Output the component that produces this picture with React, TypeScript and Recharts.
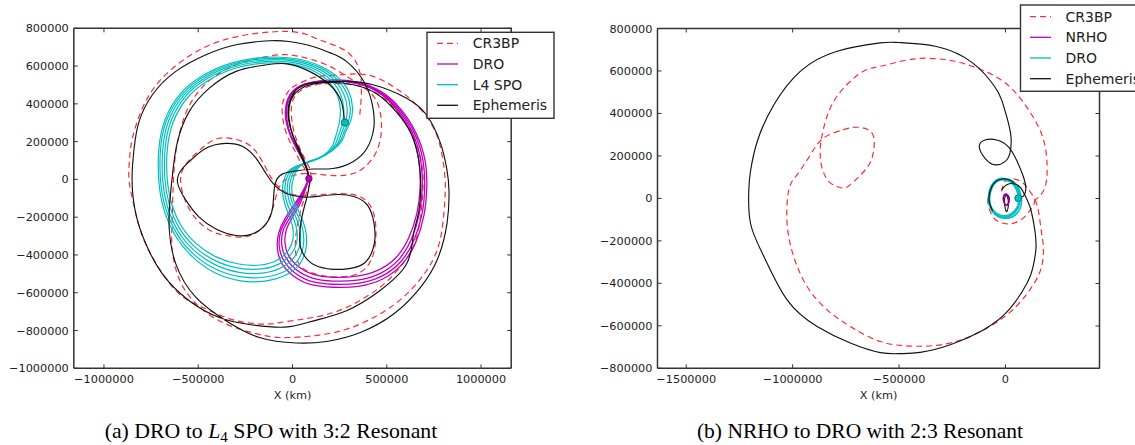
import React from 'react';
import { ScatterChart, Scatter, XAxis, YAxis } from 'recharts';

type Pt = [number, number];

// ---------- axis ticks (km) ----------
const leftXTicks = [-1000000, -500000, 0, 500000, 1000000];
const leftYTicks = [-1000000, -800000, -600000, -400000, -200000, 0, 200000, 400000, 600000, 800000];
const rightXTicks = [-1500000, -1000000, -500000, 0];
const rightYTicks = [-800000, -600000, -400000, -200000, 0, 200000, 400000, 600000, 800000];

// ---------- (a) DRO to L4 SPO, points in thousands of km ----------
const aCr3bp: Pt[] = [
  [87, 4], [62, 60], [37, 101], [11, 154], [-25, 224], [-50, 313], [-52, 402], [-25, 462], [20, 500], [126, 543],
  [232, 552], [392, 554], [534, 492], [640, 412], [729, 306], [782, 182], [808, 23], [808, -111], [782, -324],
  [711, -483], [605, -607], [463, -713], [286, -793], [108, -828], [-69, -837], [-200, -815], [-353, -765],
  [-500, -670], [-600, -530], [-637, -380], [-640, -271], [-635, -100], [-625, 94], [-605, 218], [-570, 341],
  [-510, 450], [-420, 540], [-299, 607], [-180, 642], [-69, 660], [37, 651], [179, 607], [303, 536], [400, 470],
  [455, 394], [472, 271], [445, 147], [374, 58], [286, 23], [179, 23], [73, 32], [-20, 10], [-70, -40],
  [-90, -100], [-122, -200], [-176, -271], [-264, -305], [-360, -295], [-437, -271], [-532, -182], [-590, -41],
  [-575, 66], [-494, 154], [-388, 218], [-264, 200], [-193, 147], [-140, 58], [-100, -10], [-40, -65], [59, -85],
  [231, -76], [364, -94], [431, -182], [441, -324], [410, -440], [330, -505], [200, -515], [90, -490], [30, -440],
  [15, -340], [30, -220], [60, -110], [95, -10], [90, 60], [60, 120], [25, 200], [0, 290], [-5, 390], [25, 455],
  [95, 495], [210, 508], [340, 497], [460, 447], [560, 352], [640, 230], [684, 90], [692, -50], [676, -218],
  [640, -359], [569, -466], [463, -572], [286, -678], [108, -731], [-69, -758], [-140, -766], [-299, -748],
  [-477, -678], [-619, -589], [-743, -412], [-810, -260], [-845, -120], [-867, -5], [-865, 100], [-849, 218],
  [-796, 377], [-707, 519], [-565, 642], [-388, 731], [-176, 775], [20, 780], [144, 739], [286, 678], [356, 572],
  [365, 448], [356, 333],
];

const aDro1: Pt[] = [
  [87, 4], [73, 65], [37, 136], [-7, 224], [-30, 313], [-27, 402], [11, 470], [90, 506], [214, 520], [339, 508],
  [460, 458], [558, 362], [630, 243], [670, 101], [677, -41], [660, -178], [616, -310], [548, -415], [455, -480],
  [340, -512], [214, -518], [110, -503], [32, -462], [-20, -405], [-40, -335], [-32, -265], [0, -200], [35, -138],
  [62, -72], [87, 4],
];
const aDro2: Pt[] = [
  [87, 4], [73, 66], [37, 137], [-7, 225], [-31, 314], [-28, 403], [10, 471], [90, 508], [214, 522], [339, 510],
  [462, 460], [563, 365], [638, 244], [680, 101], [688, -41], [673, -180], [630, -318], [562, -426], [466, -497],
  [343, -533], [214, -538], [105, -522], [22, -480], [-33, -418], [-57, -348], [-50, -272], [-15, -205], [25, -140],
  [57, -73], [87, 4],
];
const aDro3: Pt[] = [
  [87, 4], [73, 66], [37, 137], [-7, 225], [-33, 314], [-30, 404], [10, 473], [90, 510], [214, 524], [339, 513],
  [465, 463], [569, 368], [647, 245], [692, 101], [701, -41], [687, -183], [643, -325], [574, -436], [474, -512],
  [347, -550], [214, -555], [100, -540], [13, -496], [-45, -432], [-70, -357], [-63, -278], [-28, -205], [17, -136],
  [54, -70], [87, 4],
];
const aDro4: Pt[] = [
  [87, 4], [73, 67], [37, 138], [-7, 226], [-35, 315], [-32, 405], [9, 475], [90, 512], [214, 527], [339, 516],
  [468, 466], [575, 371], [655, 246], [703, 101], [712, -41], [698, -186], [654, -332], [584, -446], [481, -526],
  [350, -566], [214, -571], [95, -556], [5, -511], [-56, -446], [-80, -366], [-73, -283], [-38, -205], [10, -132],
  [52, -67], [87, 4],
];

const aSpo1: Pt[] = [
  [230, 230], [248, 300], [254, 370], [240, 440], [200, 510], [120, 570], [0, 610], [-150, 616], [-300, 590],
  [-440, 528], [-555, 435], [-632, 305], [-664, 160], [-665, 10], [-642, -125], [-590, -245], [-510, -340],
  [-405, -410], [-285, -448], [-170, -453], [-82, -428], [-22, -376], [3, -310], [-2, -240], [-27, -170],
  [-48, -100], [-52, -35], [-35, 25], [10, 65], [90, 92], [165, 128], [210, 175], [230, 230],
];
const aSpo2: Pt[] = [
  [245, 235], [266, 300], [272, 372], [257, 445], [214, 516], [130, 578], [5, 618], [-150, 624], [-305, 598],
  [-450, 535], [-567, 440], [-645, 308], [-676, 160], [-677, 5], [-653, -135], [-600, -258], [-518, -357],
  [-410, -430], [-285, -470], [-165, -474], [-70, -447], [-5, -392], [24, -322], [18, -245], [-10, -172],
  [-35, -105], [-40, -38], [-25, 22], [20, 68], [100, 96], [178, 133], [225, 182], [245, 235],
];
const aSpo3: Pt[] = [
  [258, 240], [282, 305], [290, 375], [273, 450], [226, 522], [138, 585], [8, 626], [-150, 632], [-310, 605],
  [-458, 541], [-578, 444], [-657, 311], [-688, 160], [-689, 0], [-664, -142], [-608, -272], [-525, -373],
  [-414, -450], [-283, -492], [-160, -496], [-60, -468], [10, -410], [42, -332], [35, -250], [7, -174],
  [-20, -106], [-28, -40], [-15, 18], [28, 70], [110, 100], [188, 138], [238, 188], [258, 240],
];
const aSpo4: Pt[] = [
  [270, 245], [298, 310], [306, 380], [288, 456], [238, 528], [146, 592], [12, 633], [-150, 639], [-315, 611],
  [-466, 546], [-588, 448], [-668, 313], [-700, 160], [-700, -5], [-674, -150], [-614, -287], [-528, -393],
  [-414, -472], [-280, -515], [-154, -518], [-48, -490], [26, -432], [58, -346], [52, -256], [22, -176],
  [-7, -106], [-16, -42], [-5, 14], [36, 72], [120, 105], [198, 145], [250, 196], [270, 245],
];
const aSpo5: Pt[] = [
  [280, 250], [310, 315], [318, 385], [300, 462], [248, 534], [152, 598], [15, 640], [-150, 646], [-320, 617],
  [-473, 551], [-596, 452], [-676, 316], [-709, 160], [-709, -10], [-682, -160], [-620, -300], [-530, -410],
  [-412, -494], [-275, -537], [-148, -538], [-38, -507], [40, -446], [73, -356], [68, -262], [38, -180],
  [6, -108], [-4, -45], [6, 10], [45, 75], [132, 110], [210, 152], [262, 204], [280, 250],
];

const aEphemeris: Pt[] = [
  [87, 4], [75, 60], [45, 140], [5, 228], [-18, 320], [-14, 400], [20, 462], [90, 500], [200, 513], [330, 500],
  [452, 450], [552, 356], [630, 240], [670, 100], [680, -40], [668, -180], [640, -300], [605, -448], [463, -589],
  [286, -695], [108, -750], [-40, -782], [-229, -768], [-388, -731], [-548, -642], [-690, -500], [-778, -341],
  [-831, -182], [-851, -5], [-840, 165], [-814, 306], [-743, 448], [-619, 572], [-459, 660], [-299, 713],
  [-122, 734], [-20, 730], [108, 704], [200, 670], [286, 625], [383, 510], [427, 377], [431, 271], [395, 165],
  [321, 94], [214, 58], [108, 55], [20, 45], [-55, 28], [-94, -32], [-105, -147], [-140, -235], [-211, -288],
  [-299, -297], [-406, -262], [-495, -200], [-565, -111], [-610, -15], [-590, 50], [-548, 94], [-459, 165],
  [-353, 191], [-264, 174], [-193, 111], [-140, 30], [-94, -32], [-36, -73], [59, -94], [150, -88], [240, -80],
  [330, -92], [400, -140], [432, -230], [434, -340], [385, -440], [300, -472], [214, -476], [120, -455],
  [60, -400], [38, -324], [50, -200], [75, -100], [90, -20], [84, 30], [60, 90], [30, 160], [0, 235], [-22, 322],
  [-18, 405], [16, 470], [85, 508], [197, 518], [286, 519], [427, 501], [605, 430], [711, 341], [782, 200],
  [818, 58], [830, -60], [820, -230], [770, -420], [680, -570], [540, -710], [360, -810], [180, -858], [20, -866],
  [-176, -837], [-353, -748], [-512, -625], [-619, -447], [-654, -260], [-650, -110], [-635, 40], [-610, 200],
  [-548, 359], [-441, 483], [-299, 572], [-150, 605], [-30, 612], [90, 572], [197, 501], [259, 412], [276, 301],
];

const aDroStart: Pt[] = [[87, 4]];
const aSpoArrival: Pt[] = [[278, 301]];

// ---------- (b) NRHO to DRO, points in thousands of km ----------
const bCr3bpRing: Pt[] = [
  [-18, 32], [-2, 79], [37, 92], [84, 72], [115, 32], [138, -7], [123, -46], [99, -78], [60, -109], [6, -120],
  [-49, -98], [-77, -46], [-83, 1], [-72, 40],
];
const bCr3bpLoop: Pt[] = [
  [138, -7], [154, -54], [170, -164], [179, -241], [170, -320], [136, -398], [51, -508], [-85, -610], [-256, -680],
  [-426, -696], [-588, -674], [-729, -603], [-838, -525], [-932, -415], [-995, -274], [-1026, -117], [-1018, 40],
  [-979, 112], [-916, 206], [-854, 285], [-760, 324], [-697, 335], [-627, 308], [-620, 222], [-651, 144],
  [-729, 65], [-768, 49], [-823, 73], [-862, 144], [-870, 238], [-854, 332], [-823, 426], [-760, 520], [-667, 599],
  [-588, 622], [-480, 648], [-366, 660], [-250, 648], [-153, 621], [0, 543], [119, 401], [179, 276], [196, 150],
  [187, 56], [160, 10], [138, -7],
];
const bNrho1: Pt[] = [[2, 22], [14, 12], [18, -8], [12, -28], [2, -30], [-8, -15], [-10, 5], [-5, 18], [2, 22]];
const bNrho2: Pt[] = [[4, 18], [16, 5], [15, -18], [6, -32], [-4, -24], [-9, -2], [-4, 14], [4, 18]];
const bDro1: Pt[] = [
  [-18, 92], [25, 82], [55, 50], [68, 0], [60, -45], [30, -78], [-10, -88], [-50, -70], [-72, -35], [-77, 8],
  [-65, 55], [-45, 82], [-18, 92],
];
const bDro2: Pt[] = [
  [-18, 95], [28, 85], [60, 52], [75, 0], [68, -50], [35, -85], [-8, -93], [-50, -75], [-75, -35], [-80, 8],
  [-68, 57], [-45, 85], [-18, 95],
];
const bDro3: Pt[] = [
  [-20, 88], [22, 78], [50, 45], [62, 0], [56, -40], [28, -72], [-10, -82], [-48, -66], [-70, -32], [-74, 8],
  [-62, 52], [-42, 78], [-20, 88],
];
const bEphemeris: Pt[] = [
  [-18, 40], [6, 64], [45, 68], [73, 48], [91, 16], [115, -39], [130, -101], [140, -164], [143, -242], [128, -330],
  [102, -398], [17, -524], [-102, -618], [-256, -688], [-400, -725], [-494, -731], [-588, -726], [-729, -681],
  [-885, -603], [-1026, -478], [-1135, -274], [-1198, -117], [-1206, 40], [-1198, 128], [-1166, 269],
  [-1088, 441], [-963, 599], [-791, 693], [-588, 732], [-503, 734], [-324, 715], [-153, 637], [-51, 527],
  [-18, 464], [6, 385], [26, 291], [21, 213], [-2, 173], [-49, 158], [-96, 189], [-123, 244], [-96, 275],
  [-41, 275], [13, 244], [52, 181], [84, 103], [96, 45], [85, 12], [60, 1],
];
const bEphemerisNrho: Pt[] = [[0, 18], [10, 5], [14, -25], [10, -55], [3, -60], [-3, -35], [-4, -5], [0, 18]];
const bEphemerisDro: Pt[] = [[-60, -60], [-77, -10], [-72, 35], [-55, 70], [-25, 90], [10, 90], [40, 75]];
const bDroArrival: Pt[] = [[60, 1]];

// ---------- styling / layout ----------
const RED = '#ff2d2d';
const MAGENTA = '#bf00bf';
const CYAN = '#00bfbf';
const BLACK = '#111111';
const FRAME = '#333333';
const SANS = '"DejaVu Sans", Verdana, sans-serif';
const SERIF = '"Liberation Serif", "Times New Roman", serif';

const domAX: [number, number] = [-1160000, 1160000];
const domAY: [number, number] = [-1000000, 800000];
const domBX: [number, number] = [-1635000, 442000];
const domBY: [number, number] = [-800000, 800000];

// plot rectangles in page pixels
const plotA = { x: 73.8, y: 28.3, w: 437.4, h: 340 };
const chartAOffset = 0;
const plotB = { x: 657.5, y: 28.5, w: 442, h: 340 };
const chartBOffset = 570;
const CHART_H = 410;

const toKm = (pts: Pt[]) => pts.map(([x, y]) => ({ x: x * 1000, y: y * 1000 }));
const fmt = (v: number) => (v < 0 ? '\u2212' + Math.abs(v) : String(v));

const BottomTick = (p: any) => (
  <g>
    <line x1={p.x} x2={p.x} y1={p.y} y2={p.y - 4} stroke={FRAME} />
    <text x={p.x} y={p.y + 14.5} textAnchor="middle" fill="#222" style={{ fontFamily: SANS, fontSize: 11.3 }}>
      {fmt(p.payload.value)}
    </text>
  </g>
);
const LeftTick = (p: any) => (
  <g>
    <line x1={p.x} x2={p.x + 4} y1={p.y} y2={p.y} stroke={FRAME} />
    <text x={p.x - 5} y={p.y + 4} textAnchor="end" fill="#222" style={{ fontFamily: SANS, fontSize: 11.3 }}>
      {fmt(p.payload.value)}
    </text>
  </g>
);

const XLabel = (p: any) => {
  const vb = p.viewBox || {};
  return (
    <text x={vb.x + vb.width / 2} y={vb.y + 30.5} textAnchor="middle" fill="#222"
      style={{ fontFamily: SANS, fontSize: 11.3 }}>X (km)</text>
  );
};

const noDot = () => <g />;

type Series = { pts: Pt[]; color: string; width: number; dash?: string };

function curves(list: Series[], prefix: string) {
  return list.map((s, i) => (
    <Scatter
      key={prefix + i}
      data={toKm(s.pts)}
      line={{ stroke: s.color, strokeWidth: s.width, strokeDasharray: s.dash }}
      lineJointType="natural"
      shape={noDot}
      fill="none"
      legendType="none"
      isAnimationActive={false}
    />
  ));
}

function marker(pts: Pt[], fill: string, edge: string, r: number, key: string) {
  return (
    <Scatter
      key={key}
      data={toKm(pts)}
      shape={(p: any) => <circle cx={p.cx} cy={p.cy} r={r} fill={fill} stroke={edge} strokeWidth={1} />}
      legendType="none"
      isAnimationActive={false}
    />
  );
}

function axes(xDomain: [number, number], yDomain: [number, number], xTicks: number[], yTicks: number[],
  yWidth: number) {
  const line = { stroke: FRAME, strokeWidth: 1.5 };
  return [
    <XAxis key="xb" type="number" dataKey="x" domain={xDomain} ticks={xTicks} interval={0}
      allowDataOverflow height={CHART_H - 368.3} tickSize={0} tickMargin={0} tickLine={false} axisLine={line}
      tick={BottomTick} label={XLabel} />,
    <YAxis key="yl" type="number" dataKey="y" domain={yDomain} ticks={yTicks} interval={0}
      allowDataOverflow width={yWidth} tickSize={0} tickMargin={0} tickLine={false} axisLine={line} tick={LeftTick} />,
  ];
}

// top and right edges of the axes box, with inward ticks at the same tick values
function FrameEdges({ plot, xDomain, yDomain, xTicks, yTicks }: any) {
  const px = (v: number) => plot.x + ((v - xDomain[0]) / (xDomain[1] - xDomain[0])) * plot.w;
  const py = (v: number) => plot.y + ((yDomain[1] - v) / (yDomain[1] - yDomain[0])) * plot.h;
  const r = plot.x + plot.w;
  return (
    <g>
      <path d={`M${plot.x},${plot.y} L${r},${plot.y} L${r},${plot.y + plot.h}`} fill="none" stroke={FRAME}
        strokeWidth={1.5} />
      {xTicks.map((v: number) => (
        <line key={'t' + v} x1={px(v)} x2={px(v)} y1={plot.y} y2={plot.y + 4} stroke={FRAME} strokeWidth={1} />
      ))}
      {yTicks.map((v: number) => (
        <line key={'r' + v} x1={r} x2={r - 4} y1={py(v)} y2={py(v)} stroke={FRAME} strokeWidth={1} />
      ))}
    </g>
  );
}

const legendA = [
  { name: 'CR3BP', color: RED, dash: '6 4' },
  { name: 'DRO', color: MAGENTA },
  { name: 'L4 SPO', color: CYAN },
  { name: 'Ephemeris', color: BLACK },
];
const legendB = [
  { name: 'CR3BP', color: RED, dash: '6 4' },
  { name: 'NRHO', color: MAGENTA },
  { name: 'DRO', color: CYAN },
  { name: 'Ephemeris', color: BLACK },
];

function LegendBox({ x, y, w, h, items, lineX, textX, rowY }: any) {
  return (
    <g>
      <rect x={x} y={y} width={w} height={h} fill="#fff" stroke={FRAME} strokeWidth={1.4} />
      {items.map((it: any, i: number) => (
        <g key={it.name}>
          <line x1={lineX} x2={lineX + 21} y1={rowY[i]} y2={rowY[i]} stroke={it.color} strokeWidth={1.3}
            strokeDasharray={it.dash} />
          <text x={textX} y={rowY[i] + 5} fill="#222" style={{ fontFamily: SANS, fontSize: 14 }}>{it.name}</text>
        </g>
      ))}
    </g>
  );
}

export default function App() {
  const seriesA: Series[] = [
    { pts: aCr3bp, color: RED, width: 1.2, dash: '6 4' },
    { pts: aDro1, color: MAGENTA, width: 1.3 },
    { pts: aDro2, color: MAGENTA, width: 1.3 },
    { pts: aDro3, color: MAGENTA, width: 1.3 },
    { pts: aDro4, color: MAGENTA, width: 1.3 },
    { pts: aSpo1, color: CYAN, width: 1.2 },
    { pts: aSpo2, color: CYAN, width: 1.2 },
    { pts: aSpo3, color: CYAN, width: 1.2 },
    { pts: aSpo4, color: CYAN, width: 1.2 },
    { pts: aSpo5, color: CYAN, width: 1.2 },
    { pts: aEphemeris, color: BLACK, width: 1.15 },
  ];
  const seriesB: Series[] = [
    { pts: bCr3bpRing, color: RED, width: 1.2, dash: '6 4' },
    { pts: bCr3bpLoop, color: RED, width: 1.2, dash: '6 4' },
    { pts: bDro1, color: CYAN, width: 1.6 },
    { pts: bDro2, color: CYAN, width: 1.6 },
    { pts: bDro3, color: CYAN, width: 1.6 },
    { pts: bEphemeris, color: BLACK, width: 1.15 },
    { pts: bEphemerisDro, color: BLACK, width: 1.15 },
    { pts: bEphemerisNrho, color: BLACK, width: 1.1 },
    { pts: bNrho1, color: MAGENTA, width: 1.4 },
    { pts: bNrho2, color: '#800080', width: 1.4 },
  ];

  const marginA = { top: plotA.y, right: 560 - (plotA.x + plotA.w - chartAOffset), bottom: 0, left: 0 };
  const marginB = { top: plotB.y, right: 565 - (plotB.x + plotB.w - chartBOffset), bottom: 0, left: 0 };

  return (
    <div style={{ position: 'absolute', left: 0, top: 0, width: 1135, height: 445, overflow: 'hidden', background: '#fff' }}>
      <div style={{ position: 'absolute', left: chartAOffset, top: 0 }}>
        <ScatterChart width={560} height={CHART_H} margin={marginA}>
          {axes(domAX, domAY, leftXTicks, leftYTicks, plotA.x - chartAOffset)}
          {curves(seriesA, 'a')}
          {marker(aDroStart, MAGENTA, '#7a007a', 3.2, 'ma')}
          {marker(aSpoArrival, CYAN, '#007a7a', 3.6, 'mb')}
        </ScatterChart>
      </div>
      <div style={{ position: 'absolute', left: chartBOffset, top: 0 }}>
        <ScatterChart width={565} height={CHART_H} margin={marginB}>
          {axes(domBX, domBY, rightXTicks, rightYTicks, plotB.x - chartBOffset)}
          {curves(seriesB, 'b')}
          {marker(bDroArrival, CYAN, '#007a7a', 3.4, 'mc')}
        </ScatterChart>
      </div>
      <svg width={1135} height={445} viewBox="0 0 1135 445"
        style={{ position: 'absolute', left: 0, top: 0, pointerEvents: 'none', zIndex: 2 }}>
        <FrameEdges plot={plotA} xDomain={domAX} yDomain={domAY} xTicks={leftXTicks} yTicks={leftYTicks} />
        <FrameEdges plot={plotB} xDomain={domBX} yDomain={domBY} xTicks={rightXTicks} yTicks={rightYTicks} />
        <LegendBox x={427} y={32.3} w={127} h={86} items={legendA} lineX={437} textX={472.7}
          rowY={[43.3, 64, 84.7, 105.3]} />
        <LegendBox x={1020.5} y={5} w={200} h={86.3} items={legendB} lineX={1030} textX={1065.6}
          rowY={[16.7, 37.3, 58, 78.7]} />
        <defs>
          <clipPath id="ylabClip">
            <rect x={585} y={150} width={12} height={100} />
          </clipPath>
        </defs>
        <text transform="translate(588,198) rotate(-90)" textAnchor="middle" clipPath="url(#ylabClip)"
          fill="#222" style={{ fontFamily: SANS, fontSize: 14 }}>Y (km)</text>
        <text x={271} y={438} textAnchor="middle" fill="#000" style={{ fontFamily: SERIF, fontSize: 21.8 }}>
          (a) DRO to <tspan fontStyle="italic">L</tspan><tspan fontSize={15} dy={4}>4</tspan>
          <tspan dy={-4}> SPO with 3:2 Resonant</tspan>
        </text>
        <text x={860} y={438} textAnchor="middle" fill="#000" style={{ fontFamily: SERIF, fontSize: 21.5 }}>
          (b) NRHO to DRO with 2:3 Resonant
        </text>
      </svg>
    </div>
  );
}
